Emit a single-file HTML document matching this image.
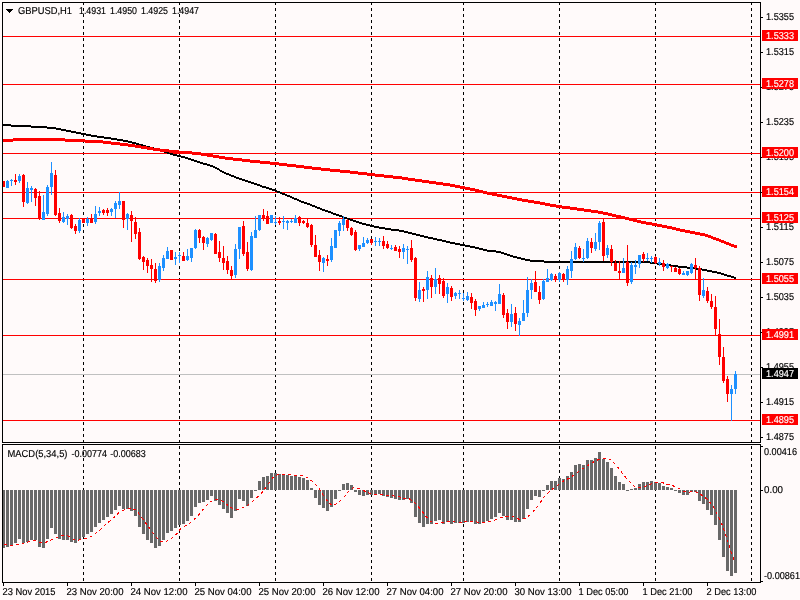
<!DOCTYPE html>
<html><head><meta charset="utf-8"><title>GBPUSD,H1</title>
<style>
html,body{margin:0;padding:0;background:#FFFAFA;}
body{width:800px;height:600px;overflow:hidden;}
svg{display:block;}
</style></head><body>
<svg width="800" height="600" viewBox="0 0 800 600" shape-rendering="crispEdges" font-family='"Liberation Sans", sans-serif' font-size="10px" text-rendering="geometricPrecision"><rect x="0" y="0" width="800" height="600" fill="#FFFAFA"/><g stroke="#000" stroke-width="1" stroke-dasharray="3,3"><line x1="83.5" y1="2" x2="83.5" y2="582"/><line x1="179.5" y1="2" x2="179.5" y2="582"/><line x1="275.5" y1="2" x2="275.5" y2="582"/><line x1="371.5" y1="2" x2="371.5" y2="582"/><line x1="463.5" y1="2" x2="463.5" y2="582"/><line x1="559.5" y1="2" x2="559.5" y2="582"/><line x1="655.5" y1="2" x2="655.5" y2="582"/><line x1="751.5" y1="2" x2="751.5" y2="582"/></g><g fill="#FF0000"><rect x="3" y="36" width="757" height="1"/><rect x="3" y="84" width="757" height="1"/><rect x="3" y="153" width="757" height="1"/><rect x="3" y="192" width="757" height="1"/><rect x="3" y="218" width="757" height="1"/><rect x="3" y="279" width="757" height="1"/><rect x="3" y="335" width="757" height="1"/><rect x="3" y="420" width="757" height="1"/></g><rect x="3" y="374" width="757" height="1" fill="#C0C0C0"/><g fill="#000"><rect x="3" y="124" width="8" height="2"/><rect x="11" y="125" width="20" height="2"/><rect x="31" y="126" width="16" height="2"/><rect x="47" y="127" width="9" height="2"/><rect x="56" y="128" width="5" height="2"/><rect x="61" y="129" width="5" height="2"/><rect x="66" y="130" width="5" height="2"/><rect x="71" y="131" width="5" height="2"/><rect x="76" y="132" width="5" height="2"/><rect x="81" y="133" width="5" height="2"/><rect x="86" y="134" width="5" height="2"/><rect x="91" y="135" width="6" height="2"/><rect x="97" y="136" width="7" height="2"/><rect x="104" y="137" width="7" height="2"/><rect x="111" y="138" width="6" height="2"/><rect x="117" y="139" width="6" height="2"/><rect x="123" y="140" width="5" height="2"/><rect x="128" y="141" width="4" height="2"/><rect x="132" y="142" width="4" height="2"/><rect x="136" y="143" width="3" height="2"/><rect x="139" y="144" width="4" height="2"/><rect x="143" y="145" width="3" height="2"/><rect x="146" y="146" width="4" height="2"/><rect x="150" y="147" width="4" height="2"/><rect x="154" y="148" width="3" height="2"/><rect x="157" y="149" width="4" height="2"/><rect x="161" y="150" width="3" height="2"/><rect x="164" y="151" width="3" height="2"/><rect x="167" y="152" width="3" height="2"/><rect x="170" y="153" width="3" height="2"/><rect x="173" y="154" width="4" height="2"/><rect x="177" y="155" width="4" height="2"/><rect x="181" y="156" width="4" height="2"/><rect x="185" y="157" width="3" height="2"/><rect x="188" y="158" width="3" height="2"/><rect x="191" y="159" width="3" height="2"/><rect x="194" y="160" width="3" height="2"/><rect x="197" y="161" width="3" height="2"/><rect x="200" y="162" width="3" height="2"/><rect x="203" y="163" width="4" height="2"/><rect x="207" y="164" width="3" height="2"/><rect x="210" y="165" width="3" height="2"/><rect x="213" y="166" width="2" height="2"/><rect x="215" y="167" width="2" height="2"/><rect x="217" y="168" width="2" height="2"/><rect x="219" y="169" width="1" height="2"/><rect x="220" y="170" width="2" height="2"/><rect x="222" y="171" width="2" height="2"/><rect x="224" y="172" width="2" height="2"/><rect x="226" y="173" width="3" height="2"/><rect x="229" y="174" width="2" height="2"/><rect x="231" y="175" width="3" height="2"/><rect x="234" y="176" width="2" height="2"/><rect x="236" y="177" width="3" height="2"/><rect x="239" y="178" width="3" height="2"/><rect x="242" y="179" width="3" height="2"/><rect x="245" y="180" width="3" height="2"/><rect x="248" y="181" width="3" height="2"/><rect x="251" y="182" width="3" height="2"/><rect x="254" y="183" width="3" height="2"/><rect x="257" y="184" width="3" height="2"/><rect x="260" y="185" width="2" height="2"/><rect x="262" y="186" width="4" height="2"/><rect x="266" y="187" width="3" height="2"/><rect x="269" y="188" width="3" height="2"/><rect x="272" y="189" width="3" height="2"/><rect x="275" y="190" width="2" height="2"/><rect x="277" y="191" width="3" height="2"/><rect x="280" y="192" width="2" height="2"/><rect x="282" y="193" width="3" height="2"/><rect x="285" y="194" width="2" height="2"/><rect x="287" y="195" width="3" height="2"/><rect x="290" y="196" width="2" height="2"/><rect x="292" y="197" width="2" height="2"/><rect x="294" y="198" width="3" height="2"/><rect x="297" y="199" width="2" height="2"/><rect x="299" y="200" width="2" height="2"/><rect x="301" y="201" width="3" height="2"/><rect x="304" y="202" width="3" height="2"/><rect x="307" y="203" width="3" height="2"/><rect x="310" y="204" width="2" height="2"/><rect x="312" y="205" width="3" height="2"/><rect x="315" y="206" width="2" height="2"/><rect x="317" y="207" width="3" height="2"/><rect x="320" y="208" width="2" height="2"/><rect x="322" y="209" width="3" height="2"/><rect x="325" y="210" width="3" height="2"/><rect x="328" y="211" width="3" height="2"/><rect x="331" y="212" width="2" height="2"/><rect x="333" y="213" width="3" height="2"/><rect x="336" y="214" width="3" height="2"/><rect x="339" y="215" width="3" height="2"/><rect x="342" y="216" width="2" height="2"/><rect x="344" y="217" width="3" height="2"/><rect x="347" y="218" width="3" height="2"/><rect x="350" y="219" width="3" height="2"/><rect x="353" y="220" width="3" height="2"/><rect x="356" y="221" width="3" height="2"/><rect x="359" y="222" width="3" height="2"/><rect x="362" y="223" width="4" height="2"/><rect x="366" y="224" width="4" height="2"/><rect x="370" y="225" width="4" height="2"/><rect x="374" y="226" width="5" height="2"/><rect x="379" y="227" width="6" height="2"/><rect x="385" y="228" width="6" height="2"/><rect x="391" y="229" width="8" height="2"/><rect x="399" y="230" width="5" height="2"/><rect x="404" y="231" width="4" height="2"/><rect x="408" y="232" width="4" height="2"/><rect x="412" y="233" width="4" height="2"/><rect x="416" y="234" width="4" height="2"/><rect x="420" y="235" width="4" height="2"/><rect x="424" y="236" width="4" height="2"/><rect x="428" y="237" width="5" height="2"/><rect x="433" y="238" width="4" height="2"/><rect x="437" y="239" width="5" height="2"/><rect x="442" y="240" width="4" height="2"/><rect x="446" y="241" width="4" height="2"/><rect x="450" y="242" width="5" height="2"/><rect x="455" y="243" width="5" height="2"/><rect x="460" y="244" width="5" height="2"/><rect x="465" y="245" width="5" height="2"/><rect x="470" y="246" width="5" height="2"/><rect x="475" y="247" width="4" height="2"/><rect x="479" y="248" width="4" height="2"/><rect x="483" y="249" width="4" height="2"/><rect x="487" y="250" width="9" height="2"/><rect x="496" y="251" width="5" height="2"/><rect x="501" y="252" width="3" height="2"/><rect x="504" y="253" width="3" height="2"/><rect x="507" y="254" width="3" height="2"/><rect x="510" y="255" width="3" height="2"/><rect x="513" y="256" width="4" height="2"/><rect x="517" y="257" width="4" height="2"/><rect x="521" y="258" width="4" height="2"/><rect x="525" y="259" width="5" height="2"/><rect x="530" y="260" width="14" height="2"/><rect x="544" y="261" width="106" height="2"/><rect x="650" y="262" width="7" height="2"/><rect x="657" y="263" width="7" height="2"/><rect x="664" y="264" width="7" height="2"/><rect x="671" y="265" width="7" height="2"/><rect x="678" y="266" width="9" height="2"/><rect x="687" y="267" width="9" height="2"/><rect x="696" y="268" width="6" height="2"/><rect x="702" y="269" width="5" height="2"/><rect x="707" y="270" width="5" height="2"/><rect x="712" y="271" width="5" height="2"/><rect x="717" y="272" width="4" height="2"/><rect x="721" y="273" width="3" height="2"/><rect x="724" y="274" width="3" height="2"/><rect x="727" y="275" width="4" height="2"/><rect x="731" y="276" width="3" height="2"/><rect x="734" y="277" width="2" height="2"/></g><g fill="#FF0000"><rect x="3" y="139" width="10" height="3"/><rect x="13" y="138" width="52" height="3"/><rect x="65" y="139" width="20" height="3"/><rect x="85" y="140" width="18" height="3"/><rect x="103" y="141" width="8" height="3"/><rect x="111" y="142" width="9" height="3"/><rect x="120" y="143" width="8" height="3"/><rect x="128" y="144" width="7" height="3"/><rect x="135" y="145" width="6" height="3"/><rect x="141" y="146" width="6" height="3"/><rect x="147" y="147" width="6" height="3"/><rect x="153" y="148" width="7" height="3"/><rect x="160" y="149" width="9" height="3"/><rect x="169" y="150" width="10" height="3"/><rect x="179" y="151" width="13" height="3"/><rect x="192" y="152" width="9" height="3"/><rect x="201" y="153" width="6" height="3"/><rect x="207" y="154" width="6" height="3"/><rect x="213" y="155" width="6" height="3"/><rect x="219" y="156" width="6" height="3"/><rect x="225" y="157" width="8" height="3"/><rect x="233" y="158" width="9" height="3"/><rect x="242" y="159" width="8" height="3"/><rect x="250" y="160" width="10" height="3"/><rect x="260" y="161" width="10" height="3"/><rect x="270" y="162" width="9" height="3"/><rect x="279" y="163" width="8" height="3"/><rect x="287" y="164" width="9" height="3"/><rect x="296" y="165" width="8" height="3"/><rect x="304" y="166" width="8" height="3"/><rect x="312" y="167" width="9" height="3"/><rect x="321" y="168" width="9" height="3"/><rect x="330" y="169" width="10" height="3"/><rect x="340" y="170" width="10" height="3"/><rect x="350" y="171" width="8" height="3"/><rect x="358" y="172" width="9" height="3"/><rect x="367" y="173" width="8" height="3"/><rect x="375" y="174" width="9" height="3"/><rect x="384" y="175" width="9" height="3"/><rect x="393" y="176" width="9" height="3"/><rect x="402" y="177" width="6" height="3"/><rect x="408" y="178" width="7" height="3"/><rect x="415" y="179" width="7" height="3"/><rect x="422" y="180" width="7" height="3"/><rect x="429" y="181" width="7" height="3"/><rect x="436" y="182" width="7" height="3"/><rect x="443" y="183" width="7" height="3"/><rect x="450" y="184" width="5" height="3"/><rect x="455" y="185" width="5" height="3"/><rect x="460" y="186" width="5" height="3"/><rect x="465" y="187" width="5" height="3"/><rect x="470" y="188" width="5" height="3"/><rect x="475" y="189" width="4" height="3"/><rect x="479" y="190" width="4" height="3"/><rect x="483" y="191" width="4" height="3"/><rect x="487" y="192" width="5" height="3"/><rect x="492" y="193" width="5" height="3"/><rect x="497" y="194" width="5" height="3"/><rect x="502" y="195" width="5" height="3"/><rect x="507" y="196" width="5" height="3"/><rect x="512" y="197" width="5" height="3"/><rect x="517" y="198" width="5" height="3"/><rect x="522" y="199" width="6" height="3"/><rect x="528" y="200" width="6" height="3"/><rect x="534" y="201" width="6" height="3"/><rect x="540" y="202" width="5" height="3"/><rect x="545" y="203" width="5" height="3"/><rect x="550" y="204" width="6" height="3"/><rect x="556" y="205" width="6" height="3"/><rect x="562" y="206" width="8" height="3"/><rect x="570" y="207" width="7" height="3"/><rect x="577" y="208" width="7" height="3"/><rect x="584" y="209" width="7" height="3"/><rect x="591" y="210" width="7" height="3"/><rect x="598" y="211" width="5" height="3"/><rect x="603" y="212" width="5" height="3"/><rect x="608" y="213" width="4" height="3"/><rect x="612" y="214" width="4" height="3"/><rect x="616" y="215" width="5" height="3"/><rect x="621" y="216" width="4" height="3"/><rect x="625" y="217" width="4" height="3"/><rect x="629" y="218" width="4" height="3"/><rect x="633" y="219" width="4" height="3"/><rect x="637" y="220" width="4" height="3"/><rect x="641" y="221" width="5" height="3"/><rect x="646" y="222" width="6" height="3"/><rect x="652" y="223" width="5" height="3"/><rect x="657" y="224" width="5" height="3"/><rect x="662" y="225" width="5" height="3"/><rect x="667" y="226" width="5" height="3"/><rect x="672" y="227" width="4" height="3"/><rect x="676" y="228" width="4" height="3"/><rect x="680" y="229" width="5" height="3"/><rect x="685" y="230" width="5" height="3"/><rect x="690" y="231" width="5" height="3"/><rect x="695" y="232" width="5" height="3"/><rect x="700" y="233" width="5" height="3"/><rect x="705" y="234" width="3" height="3"/><rect x="708" y="235" width="3" height="3"/><rect x="711" y="236" width="2" height="3"/><rect x="713" y="237" width="3" height="3"/><rect x="716" y="238" width="3" height="3"/><rect x="719" y="239" width="2" height="3"/><rect x="721" y="240" width="3" height="3"/><rect x="724" y="241" width="2" height="3"/><rect x="726" y="242" width="3" height="3"/><rect x="729" y="243" width="2" height="3"/><rect x="731" y="244" width="3" height="3"/><rect x="734" y="245" width="3" height="3"/></g><g fill="#FF0000"><rect x="3" y="181" width="1" height="6"/><rect x="2" y="181" width="3" height="6"/><rect x="15" y="174" width="1" height="11"/><rect x="14" y="180" width="3" height="2"/><rect x="23" y="174" width="1" height="33"/><rect x="22" y="175" width="3" height="27"/><rect x="35" y="188" width="1" height="18"/><rect x="34" y="189" width="3" height="9"/><rect x="39" y="191" width="1" height="29"/><rect x="38" y="196" width="3" height="23"/><rect x="55" y="170" width="1" height="46"/><rect x="54" y="175" width="3" height="40"/><rect x="59" y="208" width="1" height="15"/><rect x="58" y="213" width="3" height="8"/><rect x="71" y="214" width="1" height="15"/><rect x="70" y="215" width="3" height="13"/><rect x="75" y="224" width="1" height="10"/><rect x="74" y="226" width="3" height="5"/><rect x="83" y="218" width="1" height="5"/><rect x="82" y="219" width="3" height="4"/><rect x="91" y="214" width="1" height="9"/><rect x="90" y="219" width="3" height="4"/><rect x="103" y="209" width="1" height="6"/><rect x="102" y="210" width="3" height="3"/><rect x="107" y="208" width="1" height="8"/><rect x="106" y="210" width="3" height="3"/><rect x="123" y="201" width="1" height="27"/><rect x="122" y="201" width="3" height="19"/><rect x="131" y="211" width="1" height="31"/><rect x="130" y="215" width="3" height="6"/><rect x="135" y="217" width="1" height="22"/><rect x="134" y="222" width="3" height="12"/><rect x="139" y="228" width="1" height="32"/><rect x="138" y="232" width="3" height="27"/><rect x="143" y="256" width="1" height="14"/><rect x="142" y="257" width="3" height="5"/><rect x="147" y="258" width="1" height="15"/><rect x="146" y="260" width="3" height="6"/><rect x="151" y="259" width="1" height="23"/><rect x="150" y="265" width="3" height="4"/><rect x="155" y="263" width="1" height="20"/><rect x="154" y="269" width="3" height="12"/><rect x="171" y="250" width="1" height="10"/><rect x="170" y="250" width="3" height="10"/><rect x="183" y="252" width="1" height="9"/><rect x="182" y="256" width="3" height="5"/><rect x="199" y="229" width="1" height="14"/><rect x="198" y="230" width="3" height="8"/><rect x="203" y="236" width="1" height="14"/><rect x="202" y="237" width="3" height="6"/><rect x="215" y="233" width="1" height="21"/><rect x="214" y="234" width="3" height="20"/><rect x="219" y="241" width="1" height="21"/><rect x="218" y="252" width="3" height="6"/><rect x="223" y="246" width="1" height="24"/><rect x="222" y="258" width="3" height="5"/><rect x="227" y="256" width="1" height="18"/><rect x="226" y="261" width="3" height="9"/><rect x="231" y="266" width="1" height="13"/><rect x="230" y="270" width="3" height="6"/><rect x="243" y="221" width="1" height="35"/><rect x="242" y="226" width="3" height="28"/><rect x="247" y="242" width="1" height="29"/><rect x="246" y="252" width="3" height="17"/><rect x="263" y="209" width="1" height="12"/><rect x="262" y="215" width="3" height="4"/><rect x="267" y="211" width="1" height="13"/><rect x="266" y="216" width="3" height="8"/><rect x="279" y="217" width="1" height="8"/><rect x="278" y="221" width="3" height="2"/><rect x="299" y="216" width="1" height="10"/><rect x="298" y="217" width="3" height="6"/><rect x="303" y="220" width="1" height="4"/><rect x="302" y="221" width="3" height="2"/><rect x="307" y="219" width="1" height="9"/><rect x="306" y="223" width="3" height="4"/><rect x="311" y="224" width="1" height="23"/><rect x="310" y="225" width="3" height="20"/><rect x="315" y="235" width="1" height="22"/><rect x="314" y="245" width="3" height="12"/><rect x="319" y="250" width="1" height="21"/><rect x="318" y="255" width="3" height="7"/><rect x="327" y="255" width="1" height="11"/><rect x="326" y="259" width="3" height="2"/><rect x="347" y="219" width="1" height="12"/><rect x="346" y="220" width="3" height="8"/><rect x="351" y="227" width="1" height="9"/><rect x="350" y="228" width="3" height="7"/><rect x="355" y="230" width="1" height="21"/><rect x="354" y="232" width="3" height="18"/><rect x="371" y="239" width="1" height="6"/><rect x="370" y="239" width="3" height="4"/><rect x="383" y="236" width="1" height="13"/><rect x="382" y="241" width="3" height="5"/><rect x="387" y="241" width="1" height="8"/><rect x="386" y="244" width="3" height="4"/><rect x="395" y="245" width="1" height="6"/><rect x="394" y="247" width="3" height="4"/><rect x="399" y="246" width="1" height="12"/><rect x="398" y="249" width="3" height="3"/><rect x="411" y="240" width="1" height="22"/><rect x="410" y="248" width="3" height="12"/><rect x="415" y="257" width="1" height="44"/><rect x="414" y="258" width="3" height="40"/><rect x="423" y="287" width="1" height="15"/><rect x="422" y="289" width="3" height="2"/><rect x="431" y="275" width="1" height="23"/><rect x="430" y="278" width="3" height="9"/><rect x="439" y="275" width="1" height="19"/><rect x="438" y="278" width="3" height="6"/><rect x="443" y="278" width="1" height="20"/><rect x="442" y="281" width="3" height="15"/><rect x="451" y="286" width="1" height="15"/><rect x="450" y="288" width="3" height="9"/><rect x="471" y="293" width="1" height="16"/><rect x="470" y="297" width="3" height="6"/><rect x="475" y="299" width="1" height="17"/><rect x="474" y="301" width="3" height="9"/><rect x="503" y="293" width="1" height="25"/><rect x="502" y="295" width="3" height="20"/><rect x="507" y="309" width="1" height="20"/><rect x="506" y="313" width="3" height="9"/><rect x="515" y="307" width="1" height="24"/><rect x="514" y="313" width="3" height="11"/><rect x="535" y="271" width="1" height="21"/><rect x="534" y="282" width="3" height="10"/><rect x="539" y="286" width="1" height="18"/><rect x="538" y="292" width="3" height="8"/><rect x="555" y="274" width="1" height="8"/><rect x="554" y="276" width="3" height="4"/><rect x="563" y="273" width="1" height="9"/><rect x="562" y="274" width="3" height="6"/><rect x="579" y="246" width="1" height="13"/><rect x="578" y="248" width="3" height="10"/><rect x="591" y="238" width="1" height="15"/><rect x="590" y="242" width="3" height="6"/><rect x="603" y="219" width="1" height="42"/><rect x="602" y="222" width="3" height="34"/><rect x="611" y="245" width="1" height="21"/><rect x="610" y="249" width="3" height="13"/><rect x="615" y="260" width="1" height="11"/><rect x="614" y="263" width="3" height="8"/><rect x="619" y="261" width="1" height="18"/><rect x="618" y="271" width="3" height="2"/><rect x="627" y="245" width="1" height="41"/><rect x="626" y="262" width="3" height="21"/><rect x="643" y="252" width="1" height="10"/><rect x="642" y="254" width="3" height="5"/><rect x="655" y="256" width="1" height="8"/><rect x="654" y="257" width="3" height="6"/><rect x="663" y="260" width="1" height="11"/><rect x="662" y="263" width="3" height="4"/><rect x="671" y="266" width="1" height="6"/><rect x="670" y="266" width="3" height="1"/><rect x="675" y="267" width="1" height="5"/><rect x="674" y="268" width="3" height="4"/><rect x="679" y="268" width="1" height="7"/><rect x="678" y="269" width="3" height="5"/><rect x="695" y="258" width="1" height="22"/><rect x="694" y="265" width="3" height="3"/><rect x="699" y="266" width="1" height="35"/><rect x="698" y="268" width="3" height="27"/><rect x="707" y="287" width="1" height="16"/><rect x="706" y="291" width="3" height="10"/><rect x="711" y="294" width="1" height="15"/><rect x="710" y="301" width="3" height="6"/><rect x="715" y="296" width="1" height="39"/><rect x="714" y="307" width="3" height="22"/><rect x="719" y="319" width="1" height="46"/><rect x="718" y="334" width="3" height="23"/><rect x="723" y="347" width="1" height="36"/><rect x="722" y="357" width="3" height="24"/><rect x="727" y="376" width="1" height="26"/><rect x="726" y="379" width="3" height="15"/></g><g fill="#1E90FF"><rect x="7" y="180" width="1" height="8"/><rect x="6" y="181" width="3" height="7"/><rect x="11" y="179" width="1" height="7"/><rect x="10" y="180" width="3" height="1"/><rect x="19" y="174" width="1" height="9"/><rect x="18" y="176" width="3" height="5"/><rect x="27" y="182" width="1" height="22"/><rect x="26" y="188" width="3" height="15"/><rect x="31" y="186" width="1" height="16"/><rect x="30" y="188" width="3" height="2"/><rect x="43" y="195" width="1" height="25"/><rect x="42" y="212" width="3" height="8"/><rect x="47" y="185" width="1" height="31"/><rect x="46" y="187" width="3" height="27"/><rect x="51" y="162" width="1" height="33"/><rect x="50" y="173" width="3" height="14"/><rect x="63" y="212" width="1" height="11"/><rect x="62" y="217" width="3" height="5"/><rect x="67" y="214" width="1" height="11"/><rect x="66" y="216" width="3" height="3"/><rect x="79" y="218" width="1" height="15"/><rect x="78" y="220" width="3" height="11"/><rect x="87" y="217" width="1" height="9"/><rect x="86" y="219" width="3" height="4"/><rect x="95" y="206" width="1" height="18"/><rect x="94" y="214" width="3" height="8"/><rect x="99" y="207" width="1" height="9"/><rect x="98" y="211" width="3" height="2"/><rect x="111" y="208" width="1" height="8"/><rect x="110" y="209" width="3" height="3"/><rect x="115" y="201" width="1" height="17"/><rect x="114" y="203" width="3" height="6"/><rect x="119" y="192" width="1" height="17"/><rect x="118" y="201" width="3" height="4"/><rect x="127" y="213" width="1" height="17"/><rect x="126" y="214" width="3" height="5"/><rect x="159" y="263" width="1" height="19"/><rect x="158" y="266" width="3" height="14"/><rect x="163" y="255" width="1" height="16"/><rect x="162" y="258" width="3" height="10"/><rect x="167" y="247" width="1" height="12"/><rect x="166" y="251" width="3" height="8"/><rect x="175" y="252" width="1" height="13"/><rect x="174" y="257" width="3" height="2"/><rect x="179" y="252" width="1" height="11"/><rect x="178" y="255" width="3" height="1"/><rect x="187" y="249" width="1" height="12"/><rect x="186" y="256" width="3" height="4"/><rect x="191" y="248" width="1" height="14"/><rect x="190" y="248" width="3" height="10"/><rect x="195" y="229" width="1" height="20"/><rect x="194" y="230" width="3" height="18"/><rect x="207" y="237" width="1" height="10"/><rect x="206" y="238" width="3" height="6"/><rect x="211" y="233" width="1" height="8"/><rect x="210" y="233" width="3" height="7"/><rect x="235" y="244" width="1" height="34"/><rect x="234" y="249" width="3" height="26"/><rect x="239" y="227" width="1" height="32"/><rect x="238" y="227" width="3" height="22"/><rect x="251" y="232" width="1" height="39"/><rect x="250" y="236" width="3" height="34"/><rect x="255" y="216" width="1" height="22"/><rect x="254" y="230" width="3" height="8"/><rect x="259" y="215" width="1" height="16"/><rect x="258" y="215" width="3" height="15"/><rect x="271" y="215" width="1" height="8"/><rect x="270" y="215" width="3" height="8"/><rect x="275" y="216" width="1" height="9"/><rect x="274" y="222" width="3" height="1"/><rect x="283" y="216" width="1" height="13"/><rect x="282" y="221" width="3" height="1"/><rect x="287" y="220" width="1" height="10"/><rect x="286" y="221" width="3" height="2"/><rect x="291" y="219" width="1" height="4"/><rect x="290" y="221" width="3" height="1"/><rect x="295" y="215" width="1" height="8"/><rect x="294" y="218" width="3" height="5"/><rect x="323" y="257" width="1" height="15"/><rect x="322" y="258" width="3" height="5"/><rect x="331" y="238" width="1" height="24"/><rect x="330" y="246" width="3" height="14"/><rect x="335" y="230" width="1" height="18"/><rect x="334" y="230" width="3" height="18"/><rect x="339" y="221" width="1" height="15"/><rect x="338" y="223" width="3" height="8"/><rect x="343" y="216" width="1" height="15"/><rect x="342" y="219" width="3" height="6"/><rect x="359" y="245" width="1" height="6"/><rect x="358" y="245" width="3" height="4"/><rect x="363" y="237" width="1" height="10"/><rect x="362" y="243" width="3" height="4"/><rect x="367" y="238" width="1" height="6"/><rect x="366" y="240" width="3" height="3"/><rect x="375" y="237" width="1" height="9"/><rect x="374" y="241" width="3" height="1"/><rect x="379" y="238" width="1" height="8"/><rect x="378" y="241" width="3" height="1"/><rect x="391" y="245" width="1" height="5"/><rect x="390" y="248" width="3" height="1"/><rect x="403" y="244" width="1" height="15"/><rect x="402" y="248" width="3" height="4"/><rect x="407" y="246" width="1" height="18"/><rect x="406" y="249" width="3" height="1"/><rect x="419" y="282" width="1" height="20"/><rect x="418" y="290" width="3" height="9"/><rect x="427" y="271" width="1" height="28"/><rect x="426" y="277" width="3" height="13"/><rect x="435" y="268" width="1" height="26"/><rect x="434" y="279" width="3" height="8"/><rect x="447" y="283" width="1" height="20"/><rect x="446" y="287" width="3" height="7"/><rect x="455" y="292" width="1" height="7"/><rect x="454" y="293" width="3" height="3"/><rect x="459" y="290" width="1" height="9"/><rect x="458" y="293" width="3" height="1"/><rect x="463" y="293" width="1" height="8"/><rect x="462" y="298" width="3" height="1"/><rect x="467" y="292" width="1" height="9"/><rect x="466" y="296" width="3" height="4"/><rect x="479" y="306" width="1" height="5"/><rect x="478" y="306" width="3" height="3"/><rect x="483" y="302" width="1" height="6"/><rect x="482" y="305" width="3" height="3"/><rect x="487" y="302" width="1" height="5"/><rect x="486" y="304" width="3" height="1"/><rect x="491" y="300" width="1" height="6"/><rect x="490" y="302" width="3" height="4"/><rect x="495" y="301" width="1" height="10"/><rect x="494" y="302" width="3" height="2"/><rect x="499" y="284" width="1" height="20"/><rect x="498" y="294" width="3" height="10"/><rect x="511" y="304" width="1" height="23"/><rect x="510" y="314" width="3" height="8"/><rect x="519" y="318" width="1" height="18"/><rect x="518" y="321" width="3" height="4"/><rect x="523" y="300" width="1" height="21"/><rect x="522" y="313" width="3" height="8"/><rect x="527" y="277" width="1" height="40"/><rect x="526" y="290" width="3" height="23"/><rect x="531" y="279" width="1" height="20"/><rect x="530" y="283" width="3" height="7"/><rect x="543" y="279" width="1" height="21"/><rect x="542" y="281" width="3" height="18"/><rect x="547" y="269" width="1" height="13"/><rect x="546" y="278" width="3" height="4"/><rect x="551" y="273" width="1" height="8"/><rect x="550" y="274" width="3" height="6"/><rect x="559" y="272" width="1" height="10"/><rect x="558" y="273" width="3" height="7"/><rect x="567" y="266" width="1" height="19"/><rect x="566" y="269" width="3" height="11"/><rect x="571" y="251" width="1" height="27"/><rect x="570" y="259" width="3" height="12"/><rect x="575" y="243" width="1" height="17"/><rect x="574" y="247" width="3" height="12"/><rect x="583" y="249" width="1" height="13"/><rect x="582" y="258" width="3" height="1"/><rect x="587" y="238" width="1" height="21"/><rect x="586" y="241" width="3" height="17"/><rect x="595" y="233" width="1" height="18"/><rect x="594" y="242" width="3" height="7"/><rect x="599" y="221" width="1" height="29"/><rect x="598" y="223" width="3" height="19"/><rect x="607" y="245" width="1" height="13"/><rect x="606" y="248" width="3" height="7"/><rect x="623" y="258" width="1" height="15"/><rect x="622" y="268" width="3" height="5"/><rect x="631" y="262" width="1" height="22"/><rect x="630" y="265" width="3" height="17"/><rect x="635" y="260" width="1" height="14"/><rect x="634" y="265" width="3" height="2"/><rect x="639" y="255" width="1" height="13"/><rect x="638" y="255" width="3" height="9"/><rect x="647" y="253" width="1" height="8"/><rect x="646" y="258" width="3" height="1"/><rect x="651" y="256" width="1" height="7"/><rect x="650" y="258" width="3" height="1"/><rect x="659" y="258" width="1" height="8"/><rect x="658" y="262" width="3" height="2"/><rect x="667" y="263" width="1" height="6"/><rect x="666" y="264" width="3" height="4"/><rect x="683" y="271" width="1" height="4"/><rect x="682" y="273" width="3" height="2"/><rect x="687" y="271" width="1" height="5"/><rect x="686" y="271" width="3" height="4"/><rect x="691" y="263" width="1" height="11"/><rect x="690" y="264" width="3" height="9"/><rect x="703" y="278" width="1" height="20"/><rect x="702" y="290" width="3" height="6"/><rect x="731" y="385" width="1" height="36"/><rect x="730" y="389" width="3" height="5"/><rect x="735" y="371" width="1" height="23"/><rect x="734" y="374" width="3" height="15"/></g><g fill="#696969"><rect x="2" y="490" width="3" height="58"/><rect x="6" y="490" width="3" height="57"/><rect x="10" y="490" width="3" height="55"/><rect x="14" y="490" width="3" height="53"/><rect x="18" y="490" width="3" height="49"/><rect x="22" y="490" width="3" height="53"/><rect x="26" y="490" width="3" height="52"/><rect x="30" y="490" width="3" height="50"/><rect x="34" y="490" width="3" height="50"/><rect x="38" y="490" width="3" height="57"/><rect x="42" y="490" width="3" height="58"/><rect x="46" y="490" width="3" height="49"/><rect x="50" y="490" width="3" height="38"/><rect x="54" y="490" width="3" height="44"/><rect x="58" y="490" width="3" height="49"/><rect x="62" y="490" width="3" height="50"/><rect x="66" y="490" width="3" height="50"/><rect x="70" y="490" width="3" height="52"/><rect x="74" y="490" width="3" height="53"/><rect x="78" y="490" width="3" height="50"/><rect x="82" y="490" width="3" height="47"/><rect x="86" y="490" width="3" height="44"/><rect x="90" y="490" width="3" height="42"/><rect x="94" y="490" width="3" height="37"/><rect x="98" y="490" width="3" height="33"/><rect x="102" y="490" width="3" height="30"/><rect x="106" y="490" width="3" height="27"/><rect x="110" y="490" width="3" height="24"/><rect x="114" y="490" width="3" height="20"/><rect x="118" y="490" width="3" height="16"/><rect x="122" y="490" width="3" height="19"/><rect x="126" y="490" width="3" height="19"/><rect x="130" y="490" width="3" height="21"/><rect x="134" y="490" width="3" height="26"/><rect x="138" y="490" width="3" height="37"/><rect x="142" y="490" width="3" height="44"/><rect x="146" y="490" width="3" height="50"/><rect x="150" y="490" width="3" height="53"/><rect x="154" y="490" width="3" height="58"/><rect x="158" y="490" width="3" height="56"/><rect x="162" y="490" width="3" height="50"/><rect x="166" y="490" width="3" height="43"/><rect x="170" y="490" width="3" height="41"/><rect x="174" y="490" width="3" height="38"/><rect x="178" y="490" width="3" height="35"/><rect x="182" y="490" width="3" height="34"/><rect x="186" y="490" width="3" height="31"/><rect x="190" y="490" width="3" height="26"/><rect x="194" y="490" width="3" height="17"/><rect x="198" y="490" width="3" height="13"/><rect x="202" y="490" width="3" height="12"/><rect x="206" y="490" width="3" height="10"/><rect x="210" y="490" width="3" height="6"/><rect x="214" y="490" width="3" height="11"/><rect x="218" y="490" width="3" height="15"/><rect x="222" y="490" width="3" height="19"/><rect x="226" y="490" width="3" height="23"/><rect x="230" y="490" width="3" height="28"/><rect x="234" y="490" width="3" height="21"/><rect x="238" y="490" width="3" height="9"/><rect x="242" y="490" width="3" height="11"/><rect x="246" y="490" width="3" height="16"/><rect x="250" y="490" width="3" height="8"/><rect x="254" y="490" width="3" height="1"/><rect x="258" y="481" width="3" height="9"/><rect x="262" y="477" width="3" height="13"/><rect x="266" y="476" width="3" height="14"/><rect x="270" y="473" width="3" height="17"/><rect x="274" y="473" width="3" height="17"/><rect x="278" y="474" width="3" height="16"/><rect x="282" y="474" width="3" height="16"/><rect x="286" y="475" width="3" height="15"/><rect x="290" y="476" width="3" height="14"/><rect x="294" y="476" width="3" height="14"/><rect x="298" y="477" width="3" height="13"/><rect x="302" y="478" width="3" height="12"/><rect x="306" y="480" width="3" height="10"/><rect x="310" y="488" width="3" height="2"/><rect x="314" y="490" width="3" height="8"/><rect x="318" y="490" width="3" height="15"/><rect x="322" y="490" width="3" height="18"/><rect x="326" y="490" width="3" height="21"/><rect x="330" y="490" width="3" height="17"/><rect x="334" y="490" width="3" height="9"/><rect x="338" y="490" width="3" height="1"/><rect x="342" y="484" width="3" height="6"/><rect x="346" y="483" width="3" height="7"/><rect x="350" y="485" width="3" height="5"/><rect x="354" y="490" width="3" height="2"/><rect x="358" y="490" width="3" height="5"/><rect x="362" y="490" width="3" height="6"/><rect x="366" y="490" width="3" height="5"/><rect x="370" y="490" width="3" height="5"/><rect x="374" y="490" width="3" height="5"/><rect x="378" y="490" width="3" height="4"/><rect x="382" y="490" width="3" height="6"/><rect x="386" y="490" width="3" height="7"/><rect x="390" y="490" width="3" height="8"/><rect x="394" y="490" width="3" height="9"/><rect x="398" y="490" width="3" height="10"/><rect x="402" y="490" width="3" height="10"/><rect x="406" y="490" width="3" height="9"/><rect x="410" y="490" width="3" height="13"/><rect x="414" y="490" width="3" height="27"/><rect x="418" y="490" width="3" height="33"/><rect x="422" y="490" width="3" height="37"/><rect x="426" y="490" width="3" height="34"/><rect x="430" y="490" width="3" height="34"/><rect x="434" y="490" width="3" height="31"/><rect x="438" y="490" width="3" height="30"/><rect x="442" y="490" width="3" height="34"/><rect x="446" y="490" width="3" height="32"/><rect x="450" y="490" width="3" height="34"/><rect x="454" y="490" width="3" height="33"/><rect x="458" y="490" width="3" height="33"/><rect x="462" y="490" width="3" height="33"/><rect x="466" y="490" width="3" height="32"/><rect x="470" y="490" width="3" height="32"/><rect x="474" y="490" width="3" height="34"/><rect x="478" y="490" width="3" height="34"/><rect x="482" y="490" width="3" height="33"/><rect x="486" y="490" width="3" height="31"/><rect x="490" y="490" width="3" height="29"/><rect x="494" y="490" width="3" height="27"/><rect x="498" y="490" width="3" height="23"/><rect x="502" y="490" width="3" height="26"/><rect x="506" y="490" width="3" height="30"/><rect x="510" y="490" width="3" height="30"/><rect x="514" y="490" width="3" height="32"/><rect x="518" y="490" width="3" height="32"/><rect x="522" y="490" width="3" height="29"/><rect x="526" y="490" width="3" height="19"/><rect x="530" y="490" width="3" height="10"/><rect x="534" y="490" width="3" height="6"/><rect x="538" y="490" width="3" height="7"/><rect x="542" y="490" width="3" height="1"/><rect x="546" y="485" width="3" height="5"/><rect x="550" y="481" width="3" height="9"/><rect x="554" y="481" width="3" height="9"/><rect x="558" y="478" width="3" height="12"/><rect x="562" y="479" width="3" height="11"/><rect x="566" y="476" width="3" height="14"/><rect x="570" y="472" width="3" height="18"/><rect x="574" y="465" width="3" height="25"/><rect x="578" y="464" width="3" height="26"/><rect x="582" y="465" width="3" height="25"/><rect x="586" y="460" width="3" height="30"/><rect x="590" y="460" width="3" height="30"/><rect x="594" y="458" width="3" height="32"/><rect x="598" y="452" width="3" height="38"/><rect x="602" y="459" width="3" height="31"/><rect x="606" y="462" width="3" height="28"/><rect x="610" y="468" width="3" height="22"/><rect x="614" y="476" width="3" height="14"/><rect x="618" y="482" width="3" height="8"/><rect x="622" y="484" width="3" height="6"/><rect x="626" y="490" width="3" height="1"/><rect x="630" y="489" width="3" height="1"/><rect x="634" y="488" width="3" height="2"/><rect x="638" y="484" width="3" height="6"/><rect x="642" y="482" width="3" height="8"/><rect x="646" y="482" width="3" height="8"/><rect x="650" y="481" width="3" height="9"/><rect x="654" y="482" width="3" height="8"/><rect x="658" y="483" width="3" height="7"/><rect x="662" y="486" width="3" height="4"/><rect x="666" y="487" width="3" height="3"/><rect x="670" y="488" width="3" height="2"/><rect x="674" y="490" width="3" height="1"/><rect x="678" y="490" width="3" height="3"/><rect x="682" y="490" width="3" height="5"/><rect x="686" y="490" width="3" height="5"/><rect x="690" y="490" width="3" height="2"/><rect x="694" y="490" width="3" height="2"/><rect x="698" y="490" width="3" height="11"/><rect x="702" y="490" width="3" height="14"/><rect x="706" y="490" width="3" height="20"/><rect x="710" y="490" width="3" height="25"/><rect x="714" y="490" width="3" height="35"/><rect x="718" y="490" width="3" height="50"/><rect x="722" y="490" width="3" height="67"/><rect x="726" y="490" width="3" height="81"/><rect x="730" y="490" width="3" height="86"/><rect x="734" y="490" width="3" height="83"/></g><polyline points="3.75,544.60 11.00,545.25 16.00,545.00 22.50,543.50 28.75,541.90 35.00,540.40 40.00,542.50 46.00,542.25 52.50,539.40 58.75,536.50 65.00,535.25 68.75,536.25 72.00,538.50 76.00,540.60 82.50,539.40 88.75,537.75 95.00,534.00 100.00,529.80 106.25,524.00 112.50,518.75 118.75,512.75 125.00,509.40 131.25,508.50 136.25,510.00 141.25,516.90 146.25,523.75 150.00,528.75 155.00,535.60 159.40,541.25 164.40,541.90 170.00,539.75 176.25,534.40 181.25,528.00 187.50,524.75 193.75,520.00 200.00,513.50 203.00,509.40 210.00,501.90 215.00,499.40 221.25,500.25 227.50,505.00 233.75,509.40 239.40,509.00 246.25,506.25 251.90,501.90 257.50,496.90 262.50,491.90 267.50,485.00 272.50,478.00 277.50,474.75 283.75,474.40 290.00,474.60 296.25,475.25 301.25,475.25 307.50,477.50 313.75,482.50 318.75,488.00 323.00,495.00 327.00,500.60 332.00,505.60 338.00,503.00 343.75,497.50 348.75,491.25 353.75,487.50 360.00,488.50 366.25,491.90 372.00,494.40 377.50,494.40 383.75,494.75 390.00,495.60 396.25,496.25 401.25,497.25 403.75,498.75 408.75,498.50 414.40,502.50 419.40,508.00 424.40,514.40 429.40,520.60 435.00,523.50 441.25,522.50 447.50,521.25 453.75,521.90 460.00,522.50 466.25,521.25 472.50,521.25 478.75,522.25 485.00,522.25 490.00,521.25 495.60,519.75 501.25,517.50 507.50,516.50 513.75,516.90 519.40,519.40 525.60,518.50 531.25,513.75 536.90,507.25 541.25,501.25 545.60,495.00 551.25,490.00 557.50,485.60 563.00,481.25 569.40,478.00 575.00,474.40 581.25,469.75 587.50,465.60 593.75,461.90 598.75,459.40 601.25,459.00 606.25,458.00 611.25,460.00 616.25,465.00 621.25,471.90 626.25,478.00 631.25,483.75 636.25,487.50 642.50,487.50 648.75,484.75 655.00,482.25 661.25,482.25 667.50,484.40 672.50,485.60 678.00,488.00 683.75,491.25 688.75,492.25 693.75,491.50 697.50,492.50 702.50,495.60 708.00,500.00 713.00,506.25 717.50,515.00 722.00,524.40 726.25,536.25 731.25,552.50 734.40,561.25" fill="none" stroke="#FF0000" stroke-width="1" stroke-linejoin="round" stroke-dasharray="3,3"/><rect x="0" y="0" width="2" height="600" fill="#FFFAFA"/><g fill="none" stroke="#000" stroke-width="1"><rect x="2.5" y="2.5" width="758" height="440"/><rect x="2.5" y="444.5" width="758" height="138"/></g><g fill="#000"><rect x="761" y="17" width="2" height="1"/><rect x="761" y="52" width="2" height="1"/><rect x="761" y="87" width="2" height="1"/><rect x="761" y="122" width="2" height="1"/><rect x="761" y="157" width="2" height="1"/><rect x="761" y="192" width="2" height="1"/><rect x="761" y="227" width="2" height="1"/><rect x="761" y="262" width="2" height="1"/><rect x="761" y="297" width="2" height="1"/><rect x="761" y="332" width="2" height="1"/><rect x="761" y="367" width="2" height="1"/><rect x="761" y="402" width="2" height="1"/><rect x="761" y="437" width="2" height="1"/><rect x="761" y="446" width="2" height="1"/><rect x="761" y="490" width="2" height="1"/><rect x="761" y="581" width="2" height="1"/><rect x="3" y="583" width="1" height="3"/><rect x="67" y="583" width="1" height="3"/><rect x="131" y="583" width="1" height="3"/><rect x="195" y="583" width="1" height="3"/><rect x="259" y="583" width="1" height="3"/><rect x="323" y="583" width="1" height="3"/><rect x="387" y="583" width="1" height="3"/><rect x="451" y="583" width="1" height="3"/><rect x="515" y="583" width="1" height="3"/><rect x="579" y="583" width="1" height="3"/><rect x="643" y="583" width="1" height="3"/><rect x="707" y="583" width="1" height="3"/><polygon points="6,9 13,9 9.5,13"/></g><text x="766" y="20" fill="#000" stroke="#000" stroke-width="0.15" textLength="28" lengthAdjust="spacingAndGlyphs">1.5355</text><text x="766" y="55" fill="#000" stroke="#000" stroke-width="0.15" textLength="28" lengthAdjust="spacingAndGlyphs">1.5315</text><text x="766" y="90" fill="#000" stroke="#000" stroke-width="0.15" textLength="28" lengthAdjust="spacingAndGlyphs">1.5275</text><text x="766" y="125" fill="#000" stroke="#000" stroke-width="0.15" textLength="28" lengthAdjust="spacingAndGlyphs">1.5235</text><text x="766" y="160" fill="#000" stroke="#000" stroke-width="0.15" textLength="28" lengthAdjust="spacingAndGlyphs">1.5195</text><text x="766" y="195" fill="#000" stroke="#000" stroke-width="0.15" textLength="28" lengthAdjust="spacingAndGlyphs">1.5155</text><text x="766" y="230" fill="#000" stroke="#000" stroke-width="0.15" textLength="28" lengthAdjust="spacingAndGlyphs">1.5115</text><text x="766" y="265" fill="#000" stroke="#000" stroke-width="0.15" textLength="28" lengthAdjust="spacingAndGlyphs">1.5075</text><text x="766" y="300" fill="#000" stroke="#000" stroke-width="0.15" textLength="28" lengthAdjust="spacingAndGlyphs">1.5035</text><text x="766" y="335" fill="#000" stroke="#000" stroke-width="0.15" textLength="28" lengthAdjust="spacingAndGlyphs">1.4995</text><text x="766" y="370" fill="#000" stroke="#000" stroke-width="0.15" textLength="28" lengthAdjust="spacingAndGlyphs">1.4955</text><text x="766" y="405" fill="#000" stroke="#000" stroke-width="0.15" textLength="28" lengthAdjust="spacingAndGlyphs">1.4915</text><text x="766" y="440" fill="#000" stroke="#000" stroke-width="0.15" textLength="28" lengthAdjust="spacingAndGlyphs">1.4875</text><text x="764" y="455" fill="#000" stroke="#000" stroke-width="0.15" textLength="33" lengthAdjust="spacingAndGlyphs">0.00416</text><text x="764" y="493" fill="#000" stroke="#000" stroke-width="0.15" textLength="19" lengthAdjust="spacingAndGlyphs">0.00</text><text x="764" y="579" fill="#000" stroke="#000" stroke-width="0.15" textLength="36" lengthAdjust="spacingAndGlyphs">-0.00861</text><rect x="762" y="30" width="36" height="11" fill="#FF0000"/><text x="766" y="39" fill="#fff" stroke="#fff" stroke-width="0.15" textLength="28" lengthAdjust="spacingAndGlyphs">1.5333</text><rect x="762" y="78" width="36" height="11" fill="#FF0000"/><text x="766" y="87" fill="#fff" stroke="#fff" stroke-width="0.15" textLength="28" lengthAdjust="spacingAndGlyphs">1.5278</text><rect x="762" y="147" width="36" height="11" fill="#FF0000"/><text x="766" y="156" fill="#fff" stroke="#fff" stroke-width="0.15" textLength="28" lengthAdjust="spacingAndGlyphs">1.5200</text><rect x="762" y="186" width="36" height="11" fill="#FF0000"/><text x="766" y="195" fill="#fff" stroke="#fff" stroke-width="0.15" textLength="28" lengthAdjust="spacingAndGlyphs">1.5154</text><rect x="762" y="212" width="36" height="11" fill="#FF0000"/><text x="766" y="221" fill="#fff" stroke="#fff" stroke-width="0.15" textLength="28" lengthAdjust="spacingAndGlyphs">1.5125</text><rect x="762" y="273" width="36" height="11" fill="#FF0000"/><text x="766" y="282" fill="#fff" stroke="#fff" stroke-width="0.15" textLength="28" lengthAdjust="spacingAndGlyphs">1.5055</text><rect x="762" y="329" width="36" height="11" fill="#FF0000"/><text x="766" y="338" fill="#fff" stroke="#fff" stroke-width="0.15" textLength="28" lengthAdjust="spacingAndGlyphs">1.4991</text><rect x="762" y="414" width="36" height="11" fill="#FF0000"/><text x="766" y="423" fill="#fff" stroke="#fff" stroke-width="0.15" textLength="28" lengthAdjust="spacingAndGlyphs">1.4895</text><rect x="762" y="368" width="36" height="11" fill="#000"/><text x="766" y="377" fill="#fff" stroke="#fff" stroke-width="0.15" textLength="28" lengthAdjust="spacingAndGlyphs">1.4947</text><text x="18" y="14" fill="#000" stroke="#000" stroke-width="0.15" textLength="54" lengthAdjust="spacingAndGlyphs">GBPUSD,H1</text><text x="79" y="14" fill="#000" stroke="#000" stroke-width="0.15" textLength="27" lengthAdjust="spacingAndGlyphs">1.4931</text><text x="110" y="14" fill="#000" stroke="#000" stroke-width="0.15" textLength="27" lengthAdjust="spacingAndGlyphs">1.4950</text><text x="141" y="14" fill="#000" stroke="#000" stroke-width="0.15" textLength="27" lengthAdjust="spacingAndGlyphs">1.4925</text><text x="172" y="14" fill="#000" stroke="#000" stroke-width="0.15" textLength="27" lengthAdjust="spacingAndGlyphs">1.4947</text><text x="7.5" y="457" fill="#000" stroke="#000" stroke-width="0.15" textLength="60" lengthAdjust="spacingAndGlyphs">MACD(5,34,5)</text><text x="71.5" y="457" fill="#000" stroke="#000" stroke-width="0.15" textLength="35.5" lengthAdjust="spacingAndGlyphs">-0.00774</text><text x="110.2" y="457" fill="#000" stroke="#000" stroke-width="0.15" textLength="35.5" lengthAdjust="spacingAndGlyphs">-0.00683</text><text x="2.5" y="595" fill="#000" stroke="#000" stroke-width="0.15" textLength="53" lengthAdjust="spacingAndGlyphs">23 Nov 2015</text><text x="66.5" y="595" fill="#000" stroke="#000" stroke-width="0.15" textLength="57" lengthAdjust="spacingAndGlyphs">23 Nov 20:00</text><text x="130.5" y="595" fill="#000" stroke="#000" stroke-width="0.15" textLength="57" lengthAdjust="spacingAndGlyphs">24 Nov 12:00</text><text x="194.5" y="595" fill="#000" stroke="#000" stroke-width="0.15" textLength="57" lengthAdjust="spacingAndGlyphs">25 Nov 04:00</text><text x="258.5" y="595" fill="#000" stroke="#000" stroke-width="0.15" textLength="57" lengthAdjust="spacingAndGlyphs">25 Nov 20:00</text><text x="322.5" y="595" fill="#000" stroke="#000" stroke-width="0.15" textLength="57" lengthAdjust="spacingAndGlyphs">26 Nov 12:00</text><text x="386.5" y="595" fill="#000" stroke="#000" stroke-width="0.15" textLength="57" lengthAdjust="spacingAndGlyphs">27 Nov 04:00</text><text x="450.5" y="595" fill="#000" stroke="#000" stroke-width="0.15" textLength="57" lengthAdjust="spacingAndGlyphs">27 Nov 20:00</text><text x="514.5" y="595" fill="#000" stroke="#000" stroke-width="0.15" textLength="57" lengthAdjust="spacingAndGlyphs">30 Nov 13:00</text><text x="578.5" y="595" fill="#000" stroke="#000" stroke-width="0.15" textLength="50" lengthAdjust="spacingAndGlyphs">1 Dec 05:00</text><text x="642.5" y="595" fill="#000" stroke="#000" stroke-width="0.15" textLength="50" lengthAdjust="spacingAndGlyphs">1 Dec 21:00</text><text x="706.5" y="595" fill="#000" stroke="#000" stroke-width="0.15" textLength="50" lengthAdjust="spacingAndGlyphs">2 Dec 13:00</text></svg>
</body></html>
